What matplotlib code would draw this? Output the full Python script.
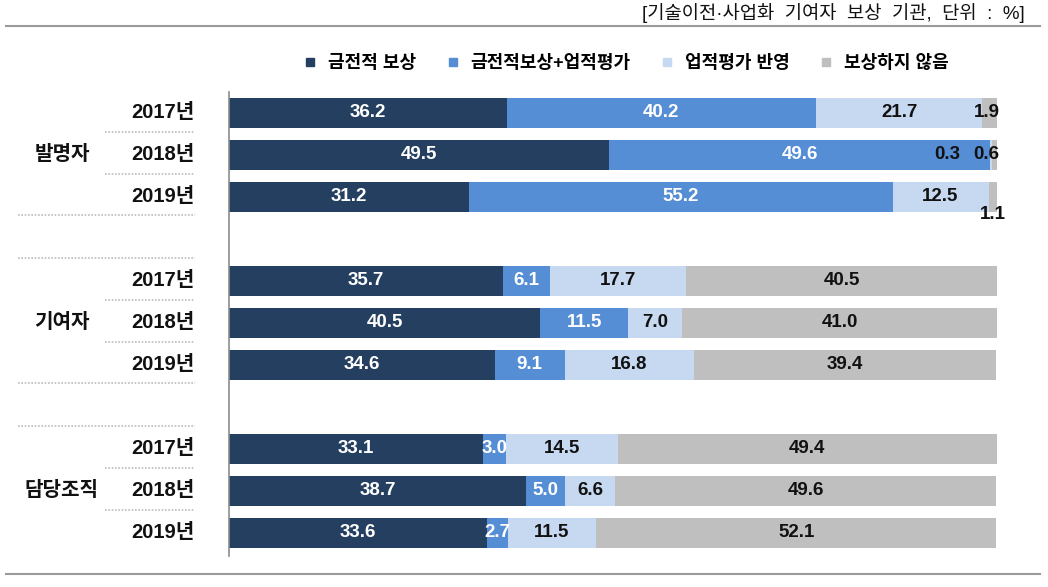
import matplotlib
matplotlib.use("Agg")
import matplotlib.pyplot as plt
import matplotlib.transforms as mtransforms
from matplotlib.lines import Line2D
import numpy as np

plt.rcParams['font.family'] = ['Liberation Sans', 'Noto Sans CJK KR', 'DejaVu Sans']

# 데이터
groups = ["발명자", "기여자", "담당조직"]
years = ["2017년", "2018년", "2019년"]
series = ["금전적 보상", "금전적보상+업적평가", "업적평가 반영", "보상하지 않음"]
colors = ["#243F60", "#558ED5", "#C6D9F1", "#BFBFBF"]
text_colors = ["white", "white", "#111111", "#111111"]

inventor = [[36.2, 40.2, 21.7, 1.9],
            [49.5, 49.6, 0.3, 0.6],
            [31.2, 55.2, 12.5, 1.1]]
contributor = [[35.7, 6.1, 17.7, 40.5],
               [40.5, 11.5, 7.0, 41.0],
               [34.6, 9.1, 16.8, 39.4]]
organization = [[33.1, 3.0, 14.5, 49.4],
                [38.7, 5.0, 6.6, 49.6],
                [33.6, 2.7, 11.5, 52.1]]
values = np.array(inventor + contributor + organization)

# 라벨 위치 보정 (row, series) -> (dx pt, dy slot)
label_shift = {(0, 3): (-2, 0), (1, 2): (-32, 0), (1, 3): (-6, 0), (2, 3): (0, 0.42)}

fig = plt.figure(figsize=(10.48, 5.87), dpi=100)
ax = fig.add_axes([229 / 1048, 1 - 556 / 587, 768 / 1048, 464 / 587])

ypos = []
for g in range(3):
    for k in range(3):
        ypos.append(g * 4 + k)
ypos = np.array(ypos, dtype=float)

left = np.zeros(len(values))
for j in range(4):
    ax.barh(ypos, values[:, j], left=left, height=0.72, color=colors[j], label=series[j])
    for i in range(len(values)):
        v = values[i, j]
        dx, dy = label_shift.get((i, j), (0, 0))
        ax.annotate("%.1f" % v, (left[i] + v / 2, ypos[i] + dy), xytext=(dx, 0),
                    textcoords="offset points", ha="center", va="center",
                    fontsize=13.5, fontweight="bold", color=text_colors[j])
    left = left + values[:, j]

ax.set_xlim(0, 100)
ax.set_ylim(10.55, -0.5)
ax.set_xticks([])
ax.set_yticks([])
for s in ["top", "right", "bottom"]:
    ax.spines[s].set_visible(False)
ax.spines["left"].set_color("#8C8C8C")
ax.spines["left"].set_linewidth(1.2)

# 왼쪽 라벨과 점선
tr = mtransforms.blended_transform_factory(fig.transFigure, ax.transData)
for g in range(3):
    for k in range(3):
        y = g * 4 + k
        ax.text(195 / 1048, y, years[k], transform=tr, ha="right", va="center",
                fontsize=14.5, fontweight="bold", color="#111111")
        if k < 2:
            ax.plot([105 / 1048, 195 / 1048], [y + 0.45, y + 0.45], transform=tr,
                    color="#BBBBBB", lw=1.2, ls=(0, (1, 1)), clip_on=False)
    ax.text(62 / 1048, g * 4 + 1, groups[g], transform=tr, ha="center", va="center",
            fontsize=14.5, fontweight="bold", color="#111111")
    if g < 2:
        for y in [g * 4 + 2.42, g * 4 + 3.45]:
            ax.plot([18 / 1048, 195 / 1048], [y, y], transform=tr,
                    color="#BBBBBB", lw=1.2, ls=(0, (1, 1)), clip_on=False)

# 범례
handles = [Line2D([], [], marker="s", ls="none", markersize=5.5, color=c) for c in colors]
fig.legend(handles, series, loc="center", bbox_to_anchor=(0.592, 1 - 64 / 587), ncol=4,
           frameon=False, handletextpad=0.0, columnspacing=1.0,
           prop={"size": 13, "weight": "bold"})

# 제목 및 위아래 선
fig.text(1025 / 1048, 1 - 13 / 587, "[기술이전·사업화  기여자  보상  기관,  단위  :  %]",
         ha="right", va="center", fontsize=13.5, color="#111111")
fig.add_artist(Line2D([6 / 1048, 1040 / 1048], [1 - 26 / 587, 1 - 26 / 587], color="#9A9A9A", lw=1.5))
fig.add_artist(Line2D([6 / 1048, 1040 / 1048], [1 - 574 / 587, 1 - 574 / 587], color="#9A9A9A", lw=1.5))

fig.savefig("out.png", dpi=100)
